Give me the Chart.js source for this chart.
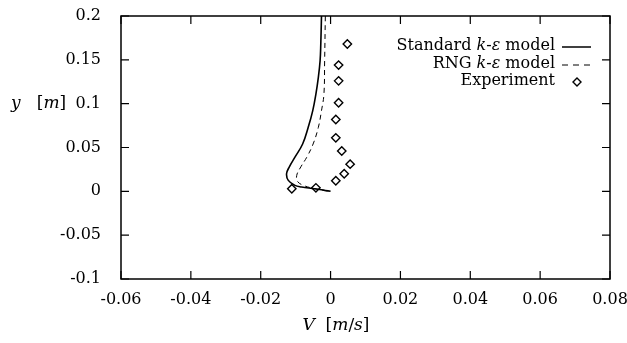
<!DOCTYPE html>
<html>
<head>
<meta charset="utf-8">
<script src="https://cdn.jsdelivr.net/npm/chart.js@4.4.0/dist/chart.umd.min.js"></script>
<style>
  body { margin: 0; background: #fff; }
  #wrap { width: 627px; height: 343px; }
</style>
</head>
<body>
<div id="wrap"><canvas id="c" width="627" height="343"></canvas></div>
<script>
// axis ticks
var xTickValues = [-0.06, -0.04, -0.02, 0, 0.02, 0.04, 0.06, 0.08];
var xTickLabels = ['-0.06', '-0.04', '-0.02', '0', '0.02', '0.04', '0.06', '0.08'];
var yTickValues = [-0.1, -0.05, 0, 0.05, 0.1, 0.15, 0.2];
var yTickLabels = ['-0.1', '-0.05', '0', '0.05', '0.1', '0.15', '0.2'];

// Standard k-eps model (V, y)
var stdV = [-0.0026, -0.0028, -0.0030, -0.0035, -0.0042, -0.0051, -0.0064, -0.0080, -0.0102, -0.0118, -0.0126, -0.0121, -0.0102, -0.0083, -0.0045, -0.0015, 0.0];
var stdY = [0.2, 0.168, 0.149, 0.130, 0.111, 0.092, 0.073, 0.054, 0.039, 0.028, 0.020, 0.0125, 0.0068, 0.005, 0.003, 0.001, 0.0];

// RNG k-eps model
var rngV = [-0.0015, -0.0017, -0.0019, -0.0026, -0.0035, -0.0050, -0.0068, -0.0085, -0.0097, -0.0094, -0.0076, -0.0050, -0.0020, 0.0];
var rngY = [0.2, 0.149, 0.111, 0.092, 0.073, 0.054, 0.039, 0.028, 0.018, 0.011, 0.0065, 0.0035, 0.001, 0.0];

// Experiment
var expV = [0.0048, 0.0023, 0.0023, 0.0023, 0.0015, 0.0015, 0.0032, 0.0056, 0.0039, 0.0015, -0.0042, -0.0111];
var expY = [0.168, 0.144, 0.126, 0.101, 0.082, 0.061, 0.046, 0.031, 0.020, 0.012, 0.004, 0.003];

function pts(xs, ys) {
    var out = [];
    for (var i = 0; i < xs.length; i++) out.push({x: xs[i], y: ys[i]});
    return out;
}

var FONT = '"DejaVu Serif", "Liberation Serif", serif';

// text pieces [text, italic]
function runsWidth(ctx, runs, size) {
    var w = 0;
    runs.forEach(function(r) {
        ctx.font = (r[1] ? 'italic ' : '') + size + 'px ' + FONT;
        w += ctx.measureText(r[0]).width;
    });
    return w;
}
function drawRuns(ctx, runs, x, y, size) {
    ctx.textAlign = 'left';
    ctx.textBaseline = 'middle';
    runs.forEach(function(r) {
        ctx.font = (r[1] ? 'italic ' : '') + size + 'px ' + FONT;
        ctx.fillText(r[0], x, y);
        x += ctx.measureText(r[0]).width;
    });
}

var decor = {
    id: 'decor',
    afterDraw: function(chart) {
        var ctx = chart.ctx;
        var a = chart.chartArea;
        var xs = chart.scales.x, ys = chart.scales.y;
        ctx.save();
        ctx.strokeStyle = '#000';
        ctx.fillStyle = '#000';
        ctx.lineWidth = 1.5;
        ctx.strokeRect(a.left, a.top, a.right - a.left, a.bottom - a.top);
        ctx.lineWidth = 1.2;
        ctx.beginPath();
        xTickValues.forEach(function(v) {
            var p = xs.getPixelForValue(v);
            ctx.moveTo(p, a.bottom); ctx.lineTo(p, a.bottom - 8);
            ctx.moveTo(p, a.top); ctx.lineTo(p, a.top + 8);
        });
        yTickValues.forEach(function(v) {
            var p = ys.getPixelForValue(v);
            ctx.moveTo(a.left, p); ctx.lineTo(a.left + 8, p);
            ctx.moveTo(a.right, p); ctx.lineTo(a.right - 8, p);
        });
        ctx.stroke();

        // legend: text right aligned, sample on the right
        var size = 16;
        var rows = [
            [[['Standard ', false], ['k', true], ['-', false], ['ε', true], [' model', false]], 'solid'],
            [[['RNG ', false], ['k', true], ['-', false], ['ε', true], [' model', false]], 'dash'],
            [[['Experiment', false]], 'dia']
        ];
        var textRight = 555, rowY = [46, 64, 81];
        rows.forEach(function(row, i) {
            var w = runsWidth(ctx, row[0], size);
            drawRuns(ctx, row[0], textRight - w, rowY[i], size);
            ctx.beginPath();
            if (row[1] === 'solid') {
                ctx.lineWidth = 1.5; ctx.setLineDash([]);
                ctx.moveTo(562, rowY[i] + 1); ctx.lineTo(591, rowY[i] + 1); ctx.stroke();
            } else if (row[1] === 'dash') {
                ctx.lineWidth = 1; ctx.setLineDash([6, 5]);
                ctx.moveTo(562, rowY[i] + 1); ctx.lineTo(591, rowY[i] + 1); ctx.stroke();
                ctx.setLineDash([]);
            } else {
                ctx.lineWidth = 1.4;
                var cx = 577, cy = rowY[i] + 1, r = 4;
                ctx.moveTo(cx, cy - r); ctx.lineTo(cx + r, cy); ctx.lineTo(cx, cy + r); ctx.lineTo(cx - r, cy); ctx.closePath();
                ctx.stroke();
            }
        });

        // axis titles
        var yt = [['y', true], ['   [', false], ['m', true], [']', false]];
        drawRuns(ctx, yt, 11, 104, 17);
        var xt = [['V', true], ['  [', false], ['m', true], ['/', false], ['s', true], [']', false]];
        var w = runsWidth(ctx, xt, 17);
        drawRuns(ctx, xt, 336 - w / 2, 326, 17);
        ctx.restore();
    }
};

new Chart(document.getElementById('c'), {
    type: 'scatter',
    data: {
        datasets: [
            {
                label: 'Standard k-ε model',
                data: pts(stdV, stdY),
                showLine: true,
                borderColor: '#000',
                borderWidth: 1.6,
                pointRadius: 0,
                tension: 0.4
            },
            {
                label: 'RNG k-ε model',
                data: pts(rngV, rngY),
                showLine: true,
                borderColor: '#000',
                borderWidth: 1,
                borderDash: [5, 4],
                pointRadius: 0,
                tension: 0.4
            },
            {
                label: 'Experiment',
                data: pts(expV, expY),
                showLine: false,
                pointStyle: 'rectRot',
                pointRadius: 4.2,
                pointBackgroundColor: '#fff',
                pointBorderColor: '#000',
                pointBorderWidth: 1.4
            }
        ]
    },
    options: {
        responsive: false,
        animation: false,
        layout: { autoPadding: false, padding: { top: 16, right: 17, left: 0, bottom: 0 } },
        plugins: { legend: { display: false }, tooltip: { enabled: false } },
        scales: {
            x: {
                type: 'linear',
                min: -0.06, max: 0.08,
                afterFit: function(s) { s.height = 64; s.paddingLeft = 0; s.paddingRight = 0; },
                afterBuildTicks: function(s) { s.ticks = xTickValues.map(function(v) { return {value: v}; }); },
                ticks: {
                    padding: 3,
                    color: '#000',
                    font: { family: FONT, size: 16 },
                    maxRotation: 0,
                    callback: function(v, i) { return xTickLabels[i]; }
                },
                grid: { display: false },
                border: { display: false }
            },
            y: {
                type: 'linear',
                min: -0.1, max: 0.2,
                afterFit: function(s) { s.width = 121; s.paddingTop = 0; s.paddingBottom = 0; },
                afterBuildTicks: function(s) { s.ticks = yTickValues.map(function(v) { return {value: v}; }); },
                ticks: {
                    padding: 12,
                    color: '#000',
                    font: { family: FONT, size: 16 },
                    callback: function(v, i) { return yTickLabels[i]; }
                },
                grid: { display: false },
                border: { display: false }
            }
        }
    },
    plugins: [decor]
});
</script>
</body>
</html>
